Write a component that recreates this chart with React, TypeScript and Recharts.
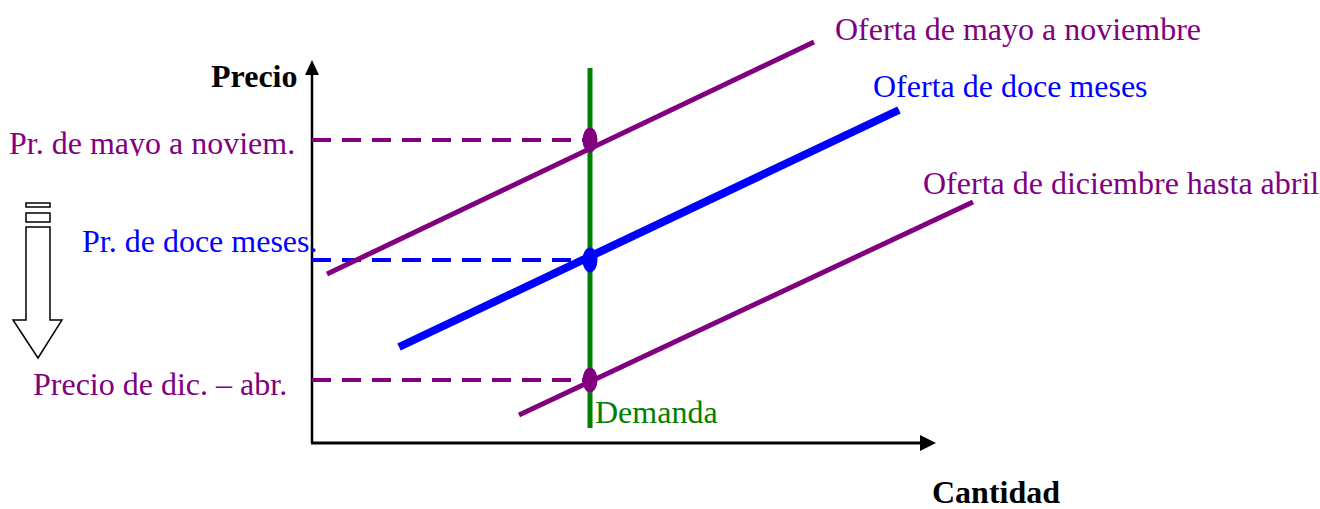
import React from "react";
import { ComposedChart, Line, XAxis, YAxis, ReferenceLine, ReferenceDot } from "recharts";

// Coordinate system: quantity (Q) on the horizontal axis, price (P) on the vertical axis.
const supplyMayNov = [
  { q: 1.5, p: 16.9 },
  { q: 50.2, p: 40.1 },
];
const supplyTwelveMonths = [
  { q: 8.7, p: 9.6 },
  { q: 58.7, p: 33.3 },
];
const supplyDecApr = [
  { q: 20.7, p: 2.8 },
  { q: 66.1, p: 24.1 },
];
const demand = [
  { q: 27.8, p: 1.5 },
  { q: 27.8, p: 37.5 },
];
const equilibriumQuantity = 27.8;
const equilibriumPrices = [30.3, 18.3, 6.3];
const axisQMax = 62.4;
const axisPMax = 38.3;

const PURPLE = "#800080";
const BLUE = "#0000FF";
const GREEN = "#008000";
const FONT = "'Liberation Serif', 'Times New Roman', serif";

const eqColors = [PURPLE, BLUE, PURPLE];

const priceGuides = equilibriumPrices.map((p) => [
  { q: 0, p },
  { q: equilibriumQuantity, p },
]);

type Annot = { text: string; q: number; p: number; color: string; bold?: boolean; clipBelow?: number };
const annotations: Annot[] = [
  { text: "Oferta de mayo a noviembre", q: 52.3, p: 40.3, color: PURPLE },
  { text: "Oferta de doce meses", q: 56.1, p: 34.6, color: BLUE },
  { text: "Oferta de diciembre hasta abril", q: 61.1, p: 24.9, color: PURPLE },
  { text: "Precio", q: -10.1, p: 35.6, color: "#000", bold: true },
  { text: "Pr. de mayo a noviem.", q: -30.3, p: 28.9, color: PURPLE, clipBelow: 2 },
  { text: "Pr. de doce meses.", q: -23.0, p: 19.1, color: BLUE },
  { text: "Precio de dic. \u2013 abr.", q: -27.9, p: 4.8, color: PURPLE },
  { text: "Demanda", q: 28.3, p: 2.0, color: GREEN },
  { text: "Cantidad", q: 62.0, p: -6.0, color: "#000", bold: true },
];

const TextShape = (a: Annot, idx: number) => (props: any) => {
  const { cx, cy } = props;
  const id = `clip-annot-${idx}`;
  return (
    <g>
      {a.clipBelow !== undefined && (
        <defs>
          <clipPath id={id}>
            <rect x={cx - 20} y={cy - 40} width={400} height={40 + a.clipBelow} />
          </clipPath>
        </defs>
      )}
      <text
        x={cx}
        y={cy}
        fill={a.color}
        fontFamily={FONT}
        fontSize={32}
        fontWeight={a.bold ? "bold" : "normal"}
        clipPath={a.clipBelow !== undefined ? `url(#${id})` : undefined}
      >
        {a.text}
      </text>
    </g>
  );
};

const EllipseShape = (color: string) => (props: any) => (
  <ellipse cx={props.cx} cy={props.cy} rx={7.5} ry={12.5} fill={color} />
);

const UpArrowHead = (props: any) => {
  const { cx, cy } = props;
  return <polygon points={`${cx},${cy} ${cx - 7},${cy + 15} ${cx + 7},${cy + 15}`} fill="#000" />;
};
const RightArrowHead = (props: any) => {
  const { cx, cy } = props;
  return <polygon points={`${cx},${cy} ${cx - 16},${cy - 8} ${cx - 16},${cy + 8}`} fill="#000" />;
};

// hollow "price falls" arrow, anchored at its tip
const HollowDownArrow = (props: any) => {
  const { cx, cy } = props;
  const pts = [
    [-12, -131],
    [12, -131],
    [12, -38],
    [24, -38],
    [0, 0],
    [-25, -38],
    [-12, -38],
  ]
    .map(([dx, dy]) => `${cx + dx},${cy + dy}`)
    .join(" ");
  return (
    <g fill="#fff" stroke="#000" strokeWidth={1.5}>
      <rect x={cx - 12} y={cy - 155} width={24} height={4} />
      <rect x={cx - 12} y={cy - 145} width={24} height={9} />
      <polygon points={pts} />
    </g>
  );
};

export default function App() {
  return (
    <div style={{ position: "absolute", left: 0, top: 0, width: 1320, height: 509, background: "#fff" }}>
      <ComposedChart width={1320} height={509} margin={{ top: 3, right: 308, bottom: 66, left: 312 }}>
        <XAxis type="number" dataKey="q" domain={[0, 70]} hide allowDataOverflow />
        <YAxis type="number" dataKey="p" domain={[0, 44]} hide allowDataOverflow />

        {/* axes */}
        <ReferenceLine
          segment={[{ x: 0, y: 0 }, { x: 0, y: axisPMax - 0.8 }]}
          stroke="#000"
          strokeWidth={2.5}
          ifOverflow="visible"
        />
        <ReferenceLine
          segment={[{ x: -0.1, y: 0 }, { x: axisQMax - 1.4, y: 0 }]}
          stroke="#000"
          strokeWidth={3}
          ifOverflow="visible"
        />
        <ReferenceDot x={0} y={axisPMax} shape={UpArrowHead} ifOverflow="visible" />
        <ReferenceDot x={axisQMax} y={0} shape={RightArrowHead} ifOverflow="visible" />

        {/* demand */}
        <Line data={demand} dataKey="p" type="linear" stroke={GREEN} strokeWidth={5} dot={false} isAnimationActive={false} />

        {/* price guides */}
        {priceGuides.map((g, i) => (
          <Line
            key={`guide-${i}`}
            data={g}
            dataKey="p"
            type="linear"
            stroke={eqColors[i]}
            strokeWidth={4}
            strokeDasharray="19 11"
            dot={false}
            isAnimationActive={false}
          />
        ))}

        {/* supply curves */}
        <Line data={supplyMayNov} dataKey="p" type="linear" stroke={PURPLE} strokeWidth={5} dot={false} isAnimationActive={false} />
        <Line data={supplyTwelveMonths} dataKey="p" type="linear" stroke={BLUE} strokeWidth={8} dot={false} isAnimationActive={false} />
        <Line data={supplyDecApr} dataKey="p" type="linear" stroke={PURPLE} strokeWidth={5} dot={false} isAnimationActive={false} />

        {/* equilibria */}
        {equilibriumPrices.map((p, i) => (
          <ReferenceDot key={`eq-${i}`} x={equilibriumQuantity} y={p} shape={EllipseShape(eqColors[i])} ifOverflow="visible" />
        ))}

        {/* falling-price arrow */}
        <ReferenceDot x={-27.4} y={8.5} shape={HollowDownArrow} ifOverflow="visible" />

        {/* labels */}
        {annotations.map((a, i) => (
          <ReferenceDot key={`lab-${i}`} x={a.q} y={a.p} shape={TextShape(a, i)} ifOverflow="visible" />
        ))}
      </ComposedChart>
    </div>
  );
}
